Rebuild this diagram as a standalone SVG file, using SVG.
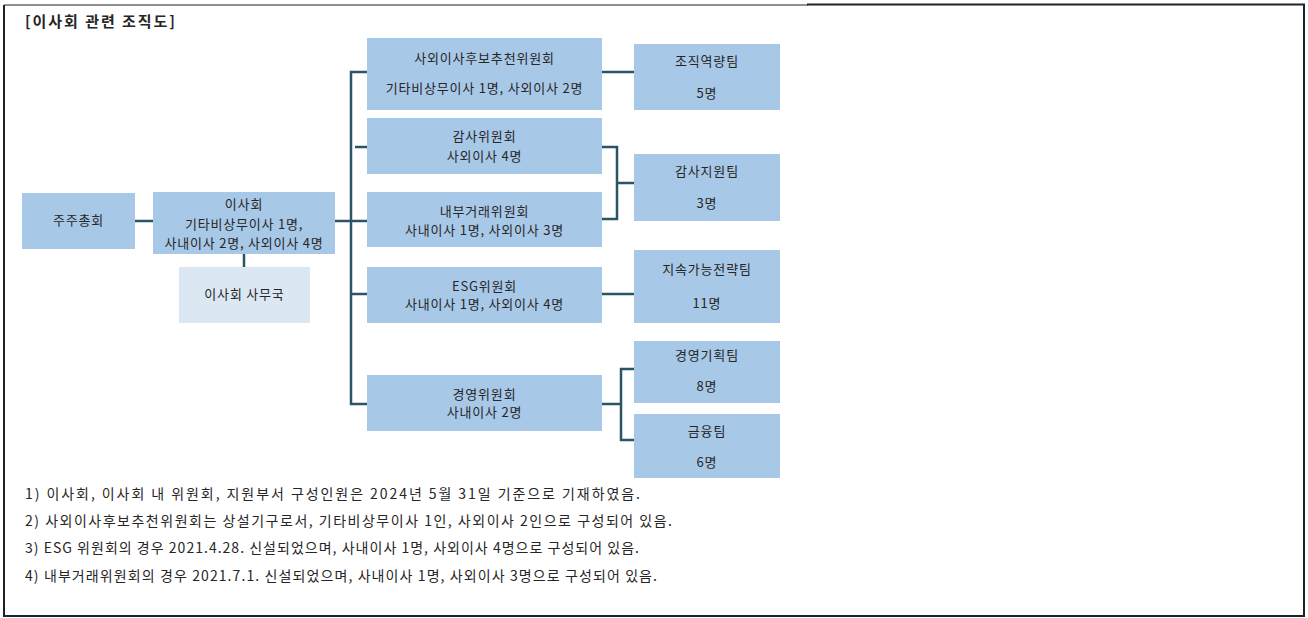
<svg xmlns="http://www.w3.org/2000/svg" width="1308" height="618" viewBox="0 0 1308 618">
<style>
.box{fill:#a8c8e8}
.box2{fill:#dbe8f4}
.t{font-family:"Noto Sans CJK KR","Noto Sans",sans-serif;font-size:13px;letter-spacing:0.8px;fill:#262626;text-anchor:middle}
.n{font-family:"Noto Sans CJK KR","Noto Sans",sans-serif;font-size:14px;fill:#262626}
.title{font-family:"Noto Sans CJK KR","Noto Sans",sans-serif;font-size:15px;font-weight:bold;fill:#262626}
.c{fill:none;stroke:#2b5467;stroke-width:2.5}
.frame{fill:none;stroke:#1e2228}
</style>
<rect width="1308" height="618" fill="#fff"/>
<g id="frame">
<line class="frame" x1="4" y1="5" x2="808" y2="5" stroke-width="1"/>
<polyline class="frame" points="807,4.5 1304,4.5 1304,616 4,616 4,5" stroke-width="2"/>
</g>
<text class="title" x="25" y="27" textLength="150" lengthAdjust="spacing">[이사회 관련 조직도]</text>
<g id="connectors">
<line class="c" x1="135" y1="221" x2="153" y2="221"/>
<line class="c" x1="244" y1="254" x2="244" y2="267"/>
<line class="c" x1="335" y1="221" x2="367" y2="221"/>
<polyline class="c" points="367,72 351,72 351,404 367,404"/>
<line class="c" x1="355" y1="147" x2="367" y2="147"/>
<line class="c" x1="351" y1="294" x2="367" y2="294"/>
<line class="c" x1="602" y1="72" x2="634" y2="72"/>
<polyline class="c" points="602,147 617,147 617,219 602,219"/>
<line class="c" x1="617" y1="183" x2="634" y2="183"/>
<line class="c" x1="602" y1="294" x2="634" y2="294"/>
<line class="c" x1="602" y1="404" x2="621" y2="404"/>
<polyline class="c" points="634,369 621,369 621,440 634,440"/>
</g>
<g id="n_shareholders"><rect class="box" x="22" y="193" width="113" height="56"/><text class="t" x="78.5" y="225">주주총회</text></g>
<g id="n_board"><rect class="box" x="153" y="192" width="182" height="62"/>
<text class="t" x="244" y="209">이사회</text><text class="t" x="244" y="229">기타비상무이사 1명,</text><text class="t" x="244" y="248">사내이사 2명, 사외이사 4명</text></g>
<g id="n_secretariat"><rect class="box2" x="179" y="267" width="131" height="56"/><text class="t" x="244.5" y="299">이사회 사무국</text></g>
<g id="n_nominate"><rect class="box" x="367" y="38" width="235" height="72"/>
<text class="t" x="484.5" y="63">사외이사후보추천위원회</text><text class="t" x="484.5" y="93">기타비상무이사 1명, 사외이사 2명</text></g>
<g id="n_audit"><rect class="box" x="367" y="118" width="235" height="56"/>
<text class="t" x="484.5" y="141">감사위원회</text><text class="t" x="484.5" y="161">사외이사 4명</text></g>
<g id="n_internal"><rect class="box" x="367" y="192" width="235" height="55"/>
<text class="t" x="484.5" y="216">내부거래위원회</text><text class="t" x="484.5" y="235">사내이사 1명, 사외이사 3명</text></g>
<g id="n_esg"><rect class="box" x="367" y="267" width="235" height="56"/>
<text class="t" x="484.5" y="291">ESG위원회</text><text class="t" x="484.5" y="309">사내이사 1명, 사외이사 4명</text></g>
<g id="n_mgmt"><rect class="box" x="367" y="375" width="235" height="56"/>
<text class="t" x="484.5" y="399">경영위원회</text><text class="t" x="484.5" y="417">사내이사 2명</text></g>
<g id="n_org"><rect class="box" x="634" y="44" width="146" height="66"/>
<text class="t" x="707" y="66">조직역량팀</text><text class="t" x="707" y="98">5명</text></g>
<g id="n_auditteam"><rect class="box" x="634" y="154" width="146" height="67"/>
<text class="t" x="707" y="176">감사지원팀</text><text class="t" x="707" y="208">3명</text></g>
<g id="n_sustain"><rect class="box" x="634" y="250" width="146" height="73"/>
<text class="t" x="707" y="274">지속가능전략팀</text><text class="t" x="707" y="308">11명</text></g>
<g id="n_plan"><rect class="box" x="634" y="341" width="146" height="62"/>
<text class="t" x="707" y="360">경영기획팀</text><text class="t" x="707" y="391">8명</text></g>
<g id="n_finance"><rect class="box" x="634" y="414" width="146" height="64"/>
<text class="t" x="707" y="436">금융팀</text><text class="t" x="707" y="467">6명</text></g>
<g id="notes">
<text class="n" x="25" y="499" textLength="615" lengthAdjust="spacing">1) 이사회, 이사회 내 위원회, 지원부서 구성인원은 2024년 5월 31일 기준으로 기재하였음.</text>
<text class="n" x="25" y="526" textLength="647" lengthAdjust="spacing">2) 사외이사후보추천위원회는 상설기구로서, 기타비상무이사 1인, 사외이사 2인으로 구성되어 있음.</text>
<text class="n" x="25" y="553" textLength="614" lengthAdjust="spacing">3) ESG 위원회의 경우 2021.4.28. 신설되었으며, 사내이사 1명, 사외이사 4명으로 구성되어 있음.</text>
<text class="n" x="25" y="581" textLength="632" lengthAdjust="spacing">4) 내부거래위원회의 경우 2021.7.1. 신설되었으며, 사내이사 1명, 사외이사 3명으로 구성되어 있음.</text>
</g>
</svg>
